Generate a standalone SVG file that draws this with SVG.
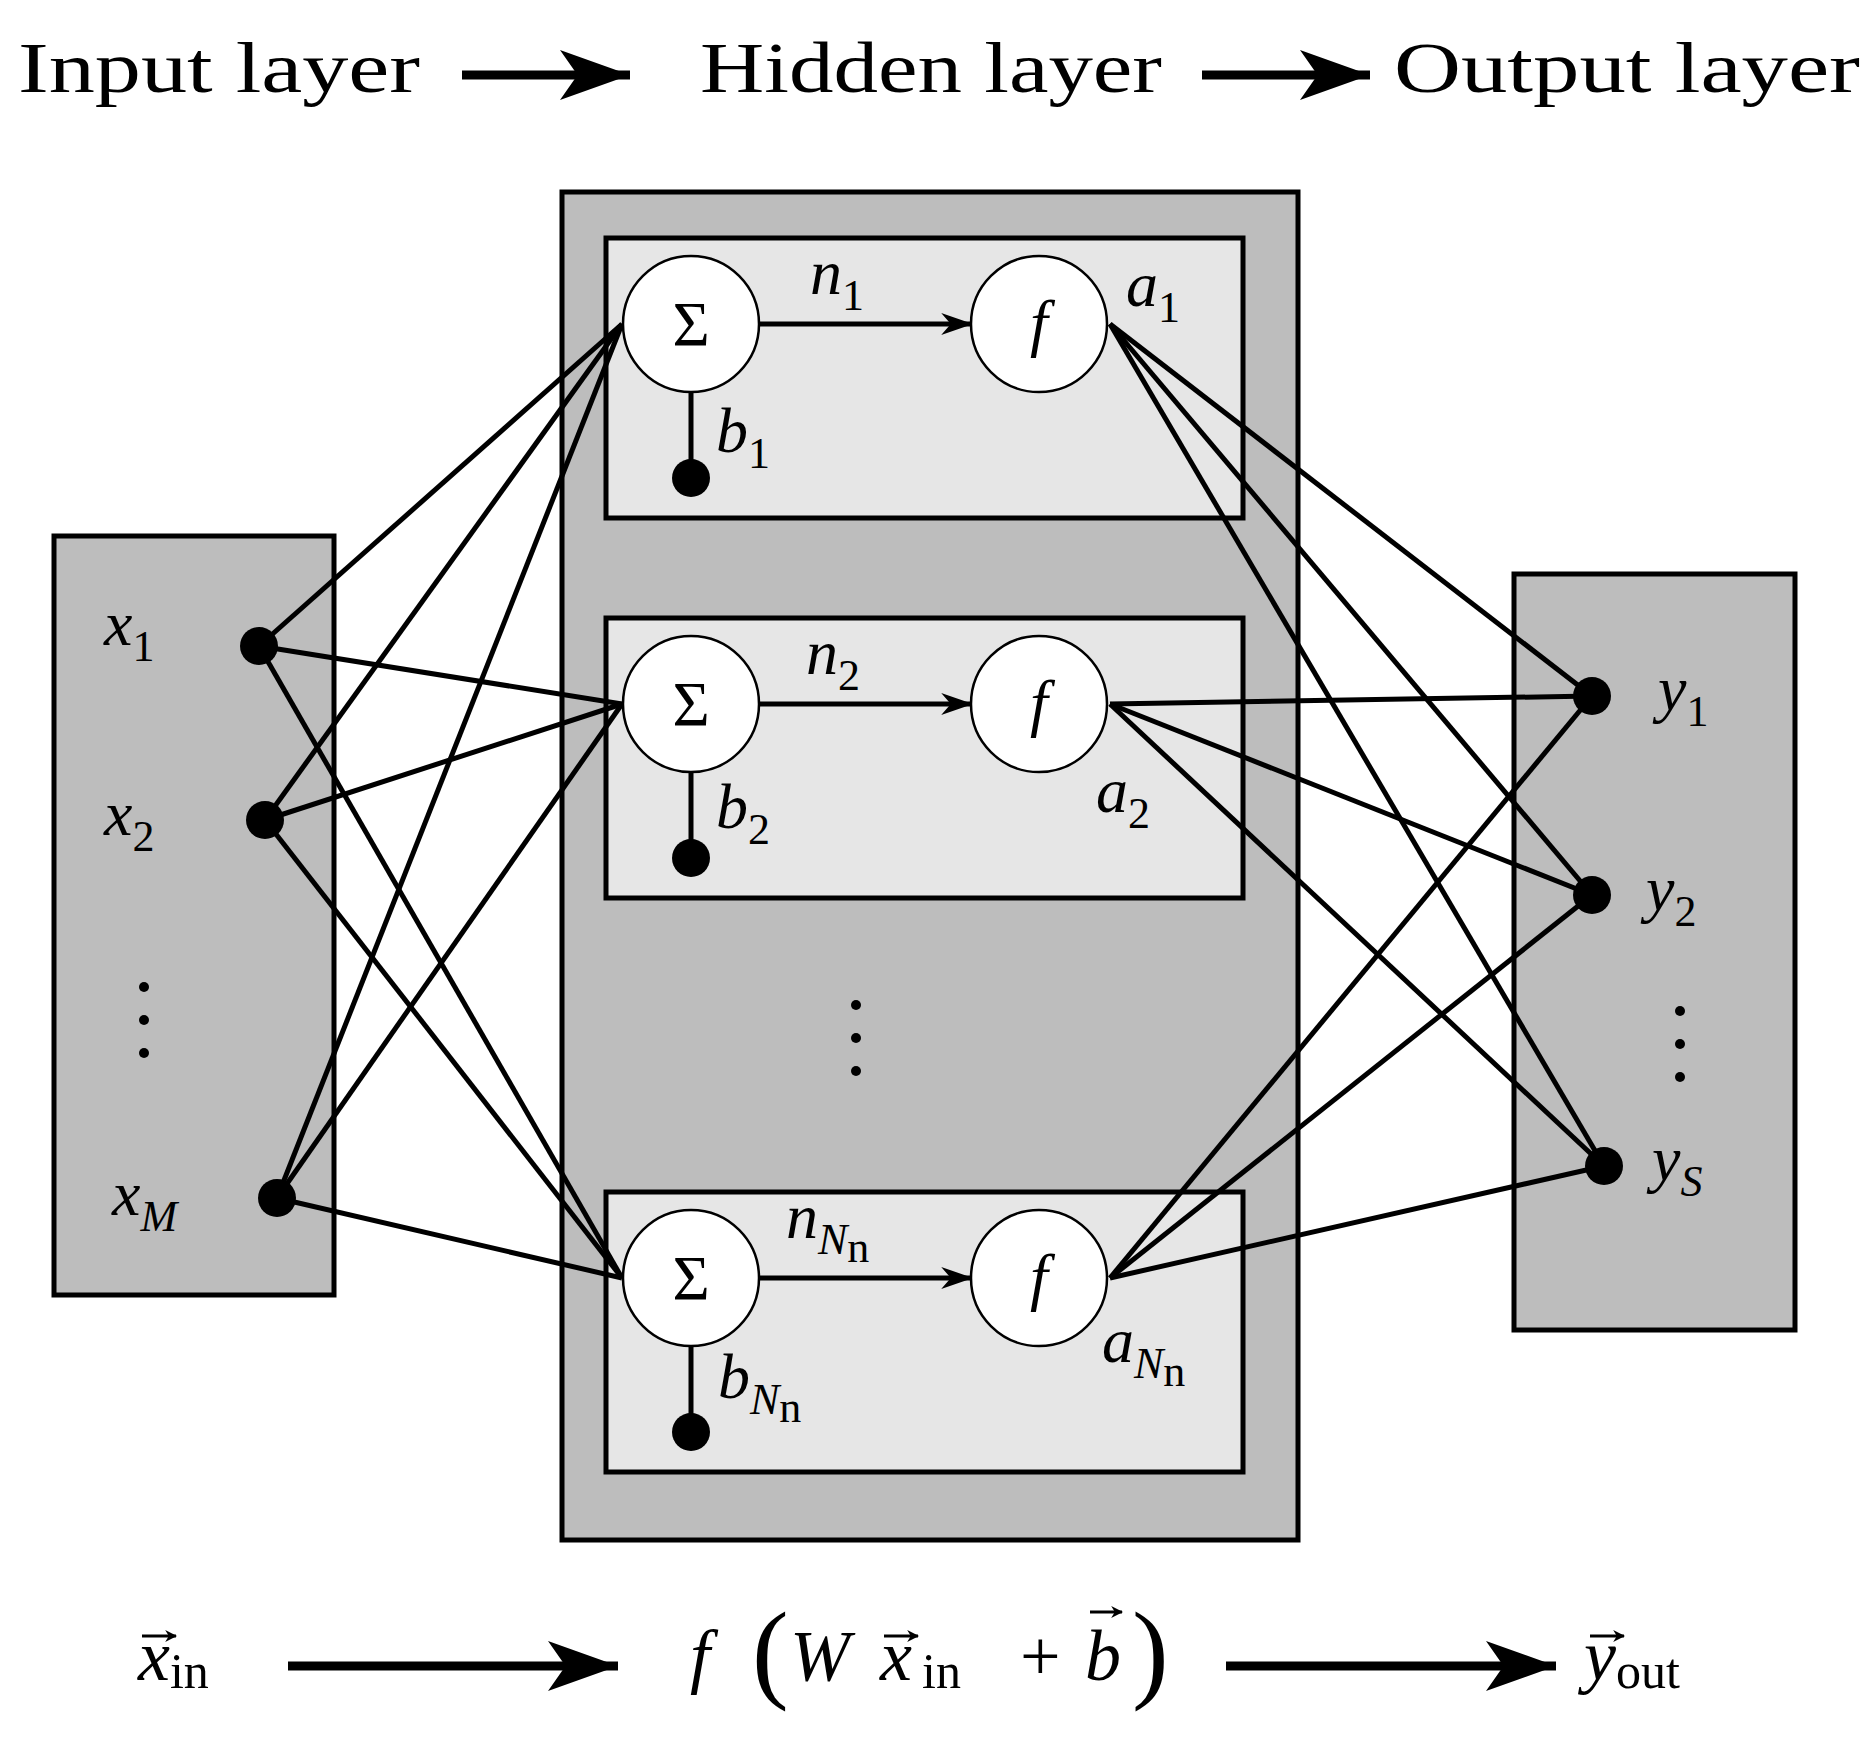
<svg xmlns="http://www.w3.org/2000/svg" width="1875" height="1756" viewBox="0 0 1875 1756">
<defs>
<style>
.t{font-family:"Liberation Serif","DejaVu Serif",serif;font-size:72px;fill:#000}
.m{font-family:"Liberation Serif","DejaVu Serif",serif;font-style:italic;font-size:64px;fill:#000}
.s{font-style:italic;font-size:44px}
.r{font-style:normal;font-size:44px}
.ln{stroke:#000;stroke-width:5;fill:none}
.box{stroke:#000;stroke-width:5}
.c{fill:#fff;stroke:#000;stroke-width:2.5}
.vec{stroke:#000;stroke-width:3;fill:none}
</style>
<marker id="ah" viewBox="0 0 10 10" refX="9" refY="5" markerWidth="32" markerHeight="22" markerUnits="userSpaceOnUse" orient="auto" preserveAspectRatio="none"><path d="M0,0 L10,5 L0,10 L3,5 z"/></marker>
<marker id="big" viewBox="0 0 10 10" refX="10" refY="5" markerWidth="70" markerHeight="50" markerUnits="userSpaceOnUse" orient="auto" preserveAspectRatio="none"><path d="M0,0 L10,5 L0,10 L2.5,5 z"/></marker>
<marker id="va" viewBox="0 0 10 10" refX="9" refY="5" markerWidth="12" markerHeight="12" markerUnits="userSpaceOnUse" orient="auto"><path d="M0,0 L10,5 L0,10 L3,5 z"/></marker>
</defs>
<rect width="1875" height="1756" fill="#fff"/>
<g id="titles">
<text class="t" x="18" y="92" textLength="402" lengthAdjust="spacingAndGlyphs">Input layer</text>
<text class="t" x="700" y="92" textLength="462" lengthAdjust="spacingAndGlyphs">Hidden layer</text>
<text class="t" x="1394" y="92" textLength="466" lengthAdjust="spacingAndGlyphs">Output layer</text>
</g>
<g id="input-layer">
<rect class="box" x="54" y="536" width="280" height="759" fill="#bdbdbd"/>
</g>
<g id="hidden-layer">
<rect class="box" x="562" y="192" width="736" height="1348" fill="#bdbdbd"/>
<rect class="box" x="606" y="238" width="637" height="280" fill="#e6e6e6"/>
<rect class="box" x="606" y="618" width="637" height="280" fill="#e6e6e6"/>
<rect class="box" x="606" y="1192" width="637" height="280" fill="#e6e6e6"/>
</g>
<g id="output-layer">
<rect class="box" x="1514" y="574" width="281" height="756" fill="#bdbdbd"/>
</g>
<g id="connectors" class="ln">
<line x1="259" y1="646" x2="622" y2="324"/><line x1="259" y1="646" x2="622" y2="704"/><line x1="259" y1="646" x2="622" y2="1278"/>
<line x1="265" y1="820" x2="622" y2="324"/><line x1="265" y1="820" x2="622" y2="704"/><line x1="265" y1="820" x2="622" y2="1278"/>
<line x1="277" y1="1198" x2="622" y2="324"/><line x1="277" y1="1198" x2="622" y2="704"/><line x1="277" y1="1198" x2="622" y2="1278"/>
<line x1="1110" y1="324" x2="1592" y2="696"/><line x1="1110" y1="324" x2="1592" y2="895"/><line x1="1110" y1="324" x2="1604" y2="1166"/>
<line x1="1110" y1="704" x2="1592" y2="696"/><line x1="1110" y1="704" x2="1592" y2="895"/><line x1="1110" y1="704" x2="1604" y2="1166"/>
<line x1="1110" y1="1278" x2="1592" y2="696"/><line x1="1110" y1="1278" x2="1592" y2="895"/><line x1="1110" y1="1278" x2="1604" y2="1166"/>
<line x1="759" y1="324" x2="970" y2="324" marker-end="url(#ah)"/>
<line x1="759" y1="704" x2="970" y2="704" marker-end="url(#ah)"/>
<line x1="759" y1="1278" x2="970" y2="1278" marker-end="url(#ah)"/>
<line x1="691" y1="392" x2="691" y2="478"/><line x1="691" y1="772" x2="691" y2="858"/><line x1="691" y1="1346" x2="691" y2="1432"/>
<line x1="462" y1="75" x2="630" y2="75" stroke-width="9" marker-end="url(#big)"/>
<line x1="1202" y1="75" x2="1370" y2="75" stroke-width="9" marker-end="url(#big)"/>
<line x1="288" y1="1666" x2="618" y2="1666" stroke-width="9" marker-end="url(#big)"/>
<line x1="1226" y1="1666" x2="1556" y2="1666" stroke-width="9" marker-end="url(#big)"/>
</g>
<g id="neurons">
<circle class="c" cx="691" cy="324" r="68"/><circle class="c" cx="1039" cy="324" r="68"/>
<circle class="c" cx="691" cy="704" r="68"/><circle class="c" cx="1039" cy="704" r="68"/>
<circle class="c" cx="691" cy="1278" r="68"/><circle class="c" cx="1039" cy="1278" r="68"/>
<g class="t" text-anchor="middle">
<text x="691" y="346" style="font-size:64px">Σ</text><text x="691" y="726" style="font-size:64px">Σ</text><text x="691" y="1300" style="font-size:64px">Σ</text>
</g>
<g class="m" text-anchor="middle"><text x="1039" y="344">f</text><text x="1039" y="724">f</text><text x="1039" y="1298">f</text></g>
</g>
<g id="dots">
<circle cx="691" cy="478" r="19"/><circle cx="691" cy="858" r="19"/><circle cx="691" cy="1432" r="19"/>
<circle cx="259" cy="646" r="19"/><circle cx="265" cy="820" r="19"/><circle cx="277" cy="1198" r="19"/>
<circle cx="1592" cy="696" r="19"/><circle cx="1592" cy="895" r="19"/><circle cx="1604" cy="1166" r="19"/>
<g fill="#000"><circle cx="144" cy="987" r="5"/><circle cx="144" cy="1020" r="5"/><circle cx="144" cy="1053" r="5"/>
<circle cx="856" cy="1005" r="5"/><circle cx="856" cy="1038" r="5"/><circle cx="856" cy="1071" r="5"/>
<circle cx="1680" cy="1011" r="5"/><circle cx="1680" cy="1044" r="5"/><circle cx="1680" cy="1077" r="5"/></g>
</g>
<g id="labels" class="m">
<text x="104" y="645">x<tspan class="r" dy="16">1</tspan></text>
<text x="104" y="835">x<tspan class="r" dy="16">2</tspan></text>
<text x="112" y="1215">x<tspan class="s" dy="16">M</tspan></text>
<text x="1658" y="710">y<tspan class="r" dy="16">1</tspan></text>
<text x="1646" y="910">y<tspan class="r" dy="16">2</tspan></text>
<text x="1652" y="1180">y<tspan class="s" dy="16">S</tspan></text>
<text x="810" y="294">n<tspan class="r" dy="16">1</tspan></text>
<text x="806" y="674">n<tspan class="r" dy="16">2</tspan></text>
<text x="786" y="1238">n<tspan class="s" dy="16">N</tspan><tspan class="r" font-size="32" dy="8">n</tspan></text>
<text x="1126" y="306">a<tspan class="r" dy="16">1</tspan></text>
<text x="1096" y="812">a<tspan class="r" dy="16">2</tspan></text>
<text x="1102" y="1362">a<tspan class="s" dy="16">N</tspan><tspan class="r" font-size="32" dy="8">n</tspan></text>
<text x="716" y="452">b<tspan class="r" dy="16">1</tspan></text>
<text x="716" y="828">b<tspan class="r" dy="16">2</tspan></text>
<text x="718" y="1398">b<tspan class="s" dy="16">N</tspan><tspan class="r" font-size="32" dy="8">n</tspan></text>
</g>
<g id="formula" class="m" style="font-size:72px">
<text x="138" y="1680">x<tspan class="r" style="font-size:50px" dy="8">in</tspan></text>
<text y="1680"><tspan x="690">f</tspan><tspan x="752" y="1688" style="font-style:normal;font-size:110px">(</tspan><tspan x="790" y="1680">W</tspan><tspan x="880">x</tspan><tspan x="922" y="1688" style="font-style:normal;font-size:50px">in</tspan><tspan x="1020" y="1680" style="font-style:normal">+</tspan><tspan x="1085">b</tspan><tspan x="1132" y="1688" style="font-style:normal;font-size:110px">)</tspan></text>
<text x="1584" y="1680">y<tspan class="r" style="font-size:50px" dy="8">out</tspan></text>
</g>
<g id="vector-arrows" class="vec">
<line x1="142" y1="1636" x2="176" y2="1636" marker-end="url(#va)"/>
<line x1="884" y1="1636" x2="918" y2="1636" marker-end="url(#va)"/>
<line x1="1090" y1="1612" x2="1122" y2="1612" marker-end="url(#va)"/>
<line x1="1590" y1="1636" x2="1624" y2="1636" marker-end="url(#va)"/>
</g>
</svg>
